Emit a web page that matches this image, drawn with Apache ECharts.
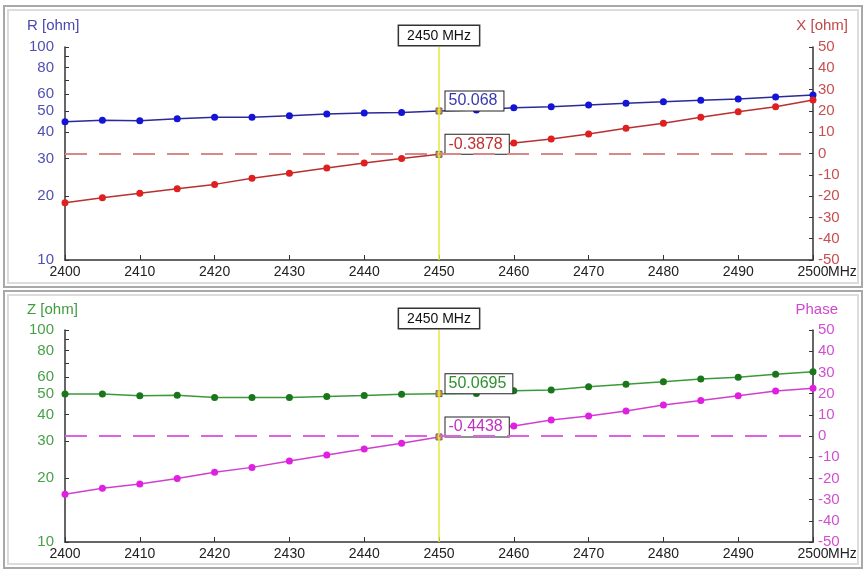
<!DOCTYPE html>
<html>
<head>
<meta charset="utf-8">
<script src="https://cdn.jsdelivr.net/npm/echarts@6/dist/echarts.min.js"></script>
<style>
html,body{margin:0;padding:0;background:#fff;}
#main{width:866px;height:572px;}
</style>
</head>
<body>
<div id="main"></div>
<script>
// ---- data ----
const freqMHz = [2400,2405,2410,2415,2420,2425,2430,2435,2440,2445,2450,2455,2460,2465,2470,2475,2480,2485,2490,2495,2500];
const rOhm    = [44.6,45.3,45.1,46.1,46.8,46.8,47.6,48.5,49.0,49.2,50.068,50.6,51.9,52.4,53.4,54.4,55.4,56.2,57.0,58.3,59.5];
const xOhm    = [-23.1,-20.8,-18.7,-16.5,-14.5,-11.6,-9.3,-6.8,-4.5,-2.4,-0.3878,2.2,4.9,6.8,9.2,11.8,14.2,17.0,19.6,22.0,25.1];
const zOhm    = [49.9,49.9,49.0,49.2,48.1,48.1,48.1,48.6,49.1,49.7,50.0695,50.2,51.7,52.1,54.0,55.5,57.0,58.7,59.8,61.8,63.6];
const phaseDeg= [-27.5,-24.7,-22.6,-20.0,-17.1,-14.8,-11.8,-9.0,-6.1,-3.4,-0.4438,2.5,4.7,7.5,9.4,11.8,14.6,16.8,19.0,21.2,22.5];
const markerFreq = 2450;
const logLabelValues = [10,20,30,40,50,60,80,100];
const logTickValues = [10,20,30,40,50,60,70,80,90,100];

const FONT = 'Liberation Sans, Arial, sans-serif';

function buildData(vals, boxColor) {
  return freqMHz.map((f, i) => {
    if (f === markerFreq) {
      return {
        value: [f, vals[i]],
        symbol: 'rect', symbolSize: 6,
        itemStyle: {color: '#e0a030', borderColor: '#666', borderWidth: 1},
        label: {
          show: true, position: 'right', distance: 3, offset: [0, -10],
          formatter: String(vals[i]),
          color: boxColor, fontSize: 16, fontFamily: FONT,
          backgroundColor: '#fff', borderColor: '#222', borderWidth: 1,
          padding: [2, 6, 1, 3]
        }
      };
    }
    return [f, vals[i]];
  });
}

function xAxis(gi) {
  return {
    type: 'value', gridIndex: gi, min: 2400, max: 2500, interval: 10,
    axisLine: {show: true, onZero: false, lineStyle: {color: '#333', width: 1.5}},
    axisTick: {show: true, inside: true, length: 5, lineStyle: {color: '#333'}},
    splitLine: {show: false},
    axisLabel: {color: '#222', fontSize: 14, fontFamily: FONT, margin: 5, formatter: v => String(v)},
    name: 'MHz', nameLocation: 'end', nameGap: 0, nameMoveOverlap: false,
    nameTextStyle: {color: '#222', fontSize: 14, fontFamily: FONT, align: 'left', verticalAlign: 'top', padding: [5, 0, 0, 15]}
  };
}
function logAxis(gi, color) {
  return {
    type: 'log', logBase: 10, gridIndex: gi, min: 10, max: 100, position: 'left',
    axisLine: {show: true, lineStyle: {color: '#333', width: 1.5}},
    axisTick: {show: true, inside: true, length: 4, customValues: logTickValues, lineStyle: {color: '#333'}},
    minorTick: {show: false},
    splitLine: {show: false},
    axisLabel: {color: color, fontSize: 15, fontFamily: FONT, margin: 11, customValues: logLabelValues,
      formatter: v => String(Math.round(v))}
  };
}
function linAxis(gi, color) {
  return {
    type: 'value', gridIndex: gi, min: -50, max: 50, interval: 10, position: 'right',
    axisLine: {show: true, onZero: false, lineStyle: {color: '#333', width: 1.5}},
    axisTick: {show: true, inside: true, length: 4, lineStyle: {color: '#333'}},
    splitLine: {show: false},
    axisLabel: {color: color, fontSize: 15, fontFamily: FONT, margin: 5}
  };
}
function cursorLine() {
  return {
    silent: true, symbol: 'none', animation: false,
    lineStyle: {color: '#e8e84a', type: 'solid', width: 1.6},
    label: {
      show: true, position: 'end', distance: 2, formatter: '2450 MHz',
      color: '#111', fontSize: 14, fontFamily: FONT,
      backgroundColor: '#fff', borderColor: '#333', borderWidth: 1.5, padding: [3, 8, 2, 8]
    },
    data: [{xAxis: markerFreq}]
  };
}
function zeroLine(color) {
  return {
    silent: true, symbol: 'none', animation: false,
    lineStyle: {color: color, type: [22, 12], width: 2},
    label: {show: false},
    data: [{yAxis: 0}]
  };
}

const titleStyle = (c) => ({color: c, fontSize: 15, fontWeight: 'normal', fontFamily: FONT});

const option = {
  backgroundColor: '#fff',
  animation: false,
  title: [
    {text: 'R [ohm]', left: 27, top: 18, padding: 0, textStyle: titleStyle('#4848b0')},
    {text: 'X [ohm]', right: 18, top: 18, padding: 0, textStyle: titleStyle('#c04848')},
    {text: 'Z [ohm]', left: 27, top: 302, padding: 0, textStyle: titleStyle('#3c9c3c')},
    {text: 'Phase', right: 28, top: 302, padding: 0, textStyle: titleStyle('#d048d0')}
  ],
  graphic: [
    {type: 'rect', shape: {x: 4, y: 6, width: 858, height: 281}, style: {fill: null, stroke: '#a8a8a8', lineWidth: 2}, z: -1, silent: true},
    {type: 'rect', shape: {x: 8, y: 10, width: 850, height: 273}, style: {fill: null, stroke: '#dcdcdc', lineWidth: 2}, z: -1, silent: true},
    {type: 'rect', shape: {x: 4, y: 291, width: 858, height: 277}, style: {fill: null, stroke: '#a8a8a8', lineWidth: 2}, z: -1, silent: true},
    {type: 'rect', shape: {x: 8, y: 295, width: 850, height: 269}, style: {fill: null, stroke: '#dcdcdc', lineWidth: 2}, z: -1, silent: true}
  ],
  grid: [
    {left: 65, right: 53, top: 47, height: 213, outerBoundsMode: 'none', containLabel: false},
    {left: 65, right: 53, top: 330, height: 212, outerBoundsMode: 'none', containLabel: false}
  ],
  xAxis: [xAxis(0), xAxis(1)],
  yAxis: [logAxis(0, '#5050b0'), linAxis(0, '#c85050'), logAxis(1, '#48a048'), linAxis(1, '#d050d0')],
  series: [
    {
      name: 'R', type: 'line', xAxisIndex: 0, yAxisIndex: 0,
      symbol: 'circle', symbolSize: 7,
      itemStyle: {color: '#1414d8'}, lineStyle: {color: '#2a2a98', width: 1.5},
      data: buildData(rOhm, '#3838b0'),
      markLine: cursorLine(), z: 3
    },
    {
      name: 'X', type: 'line', xAxisIndex: 0, yAxisIndex: 1,
      symbol: 'circle', symbolSize: 7,
      itemStyle: {color: '#e02020'}, lineStyle: {color: '#b83030', width: 1.5},
      data: buildData(xOhm, '#c03030'),
      markLine: zeroLine('#d88888'), z: 3
    },
    {
      name: 'Z', type: 'line', xAxisIndex: 1, yAxisIndex: 2,
      symbol: 'circle', symbolSize: 7,
      itemStyle: {color: '#1a761a'}, lineStyle: {color: '#3a9a3a', width: 1.5},
      data: buildData(zOhm, '#309030'),
      markLine: cursorLine(), z: 3
    },
    {
      name: 'Phase', type: 'line', xAxisIndex: 1, yAxisIndex: 3,
      symbol: 'circle', symbolSize: 7,
      itemStyle: {color: '#e020e0'}, lineStyle: {color: '#d040d0', width: 1.5},
      data: buildData(phaseDeg, '#c030c0'),
      markLine: zeroLine('#e060e0'), z: 3
    }
  ]
};

const chart = echarts.init(document.getElementById('main'), null, {renderer: 'canvas'});
chart.setOption(option);
</script>
</body>
</html>
